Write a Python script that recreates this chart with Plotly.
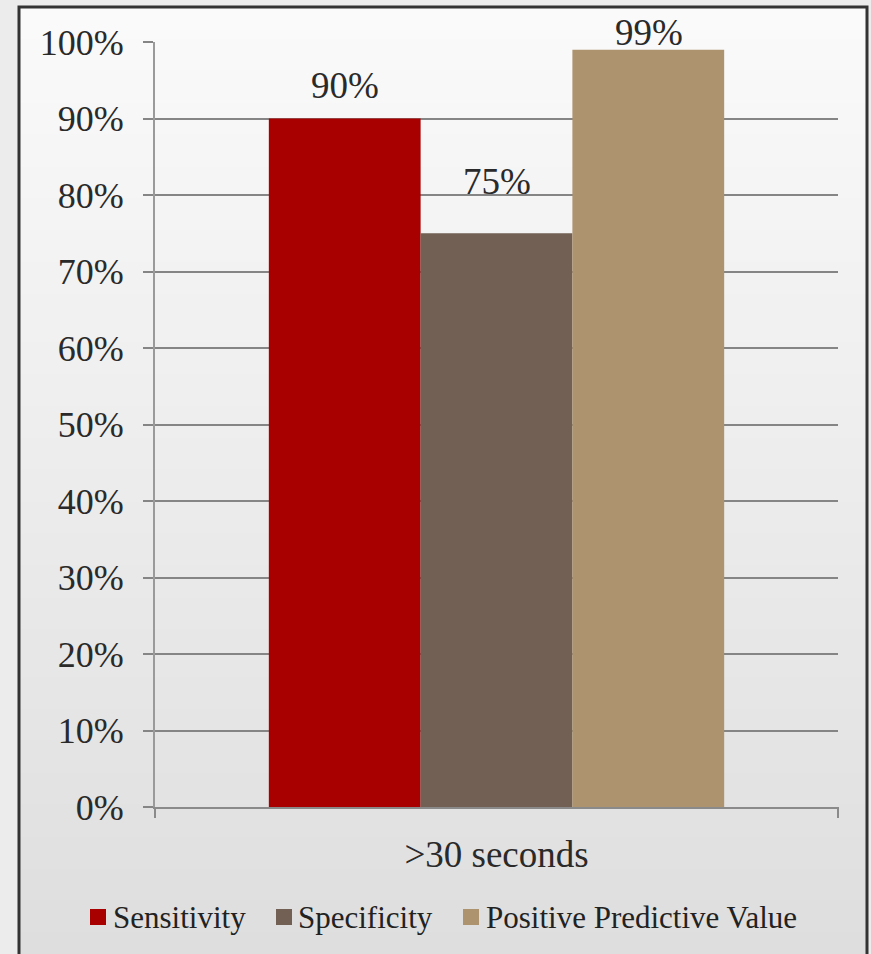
import plotly.graph_objects as go

categories = [">30 seconds"]
series_names = ["Sensitivity", "Specificity", "Positive Predictive Value"]
series_values = [[0.90], [0.75], [0.99]]
series_colors = ["#A80000", "#716053", "#AD946E"]
label_texts = ["90%", "75%", "99%"]
label_yshift = [11, 29, -5]
tick_vals = [0, 0.1, 0.2, 0.3, 0.4, 0.5, 0.6, 0.7, 0.8, 0.9, 1.0]
tick_text = ["0%", "10%", "20%", "30%", "40%", "50%", "60%", "70%", "80%", "90%", "100%"]

W, H = 871, 954
L, R, T, B = 155, 33, 42, 147
PW, PH = W - L - R, H - T - B


def px(x):
    return (x - L) / PW


def py(y):
    return (H - B - y) / PH


FONT = "Liberation Serif"

fig = go.Figure()
for name, vals, col in zip(series_names, series_values, series_colors):
    fig.add_trace(go.Bar(x=categories, y=vals, name=name, showlegend=False,
                         marker=dict(color=col, line=dict(width=0))))

shapes = []
n = 60
top_c = (250, 250, 250)
bot_c = (222, 222, 222)
for i in range(n):
    y0 = 7 + (H + 10 - 7) * i / n
    y1 = 7 + (H + 10 - 7) * (i + 1) / n
    t = i / (n - 1)
    c = tuple(int(round(top_c[k] + (bot_c[k] - top_c[k]) * t)) for k in range(3))
    shapes.append(dict(type="rect", xref="paper", yref="paper", x0=px(19), x1=px(867),
                       y0=py(y1) - 0.001, y1=py(y0), fillcolor="rgb(%d,%d,%d)" % c,
                       line=dict(width=0), layer="below"))
shapes.append(dict(type="rect", xref="paper", yref="paper", x0=px(19), x1=px(867),
                   y0=py(H + 20), y1=py(7), line=dict(color="#333333", width=3),
                   fillcolor="rgba(0,0,0,0)", layer="above"))
for xx in [0, 1]:
    shapes.append(dict(type="line", xref="paper", yref="paper", x0=xx, x1=xx,
                       y0=0, y1=py(818), line=dict(color="#8a8a8a", width=2)))

annotations = []
offsets = [-152, 0, 152]
for txt, vals, dx, dy in zip(label_texts, series_values, offsets, label_yshift):
    annotations.append(dict(x=categories[0], y=vals[0], xref="x", yref="y", text=txt,
                            showarrow=False, xshift=dx, yshift=dy, yanchor="bottom",
                            font=dict(family=FONT, size=37, color="#2a2a2a")))

# legend (drawn as swatches + text to keep it on one row like the reference)
legend_marker_x = [90, 276, 463]
legend_text_x = [111, 296, 484]
legend_y = 917
for name, col, mx, tx in zip(series_names, series_colors, legend_marker_x, legend_text_x):
    shapes.append(dict(type="rect", xref="paper", yref="paper", x0=px(mx), x1=px(mx + 16),
                       y0=py(legend_y + 8), y1=py(legend_y - 8), fillcolor=col,
                       line=dict(width=0)))
    annotations.append(dict(x=px(tx), y=py(legend_y), xref="paper", yref="paper", text=name,
                            showarrow=False, xanchor="left", yanchor="middle",
                            font=dict(family=FONT, size=31, color="#222222")))

fig.update_layout(
    width=W, height=H,
    margin=dict(l=L, r=R, t=T, b=B, pad=0, autoexpand=False),
    paper_bgcolor="#ececec",
    plot_bgcolor="rgba(0,0,0,0)",
    barmode="group",
    bargap=1 / 3,
    bargroupgap=0,
    shapes=shapes,
    annotations=annotations,
    font=dict(family=FONT, color="#2a2a2a"),
    showlegend=False,
    xaxis=dict(showgrid=False, showline=True, linecolor="#8a8a8a", linewidth=2,
               ticks="", tickfont=dict(family=FONT, size=37, color="#2a2a2a"),
               ticklabelstandoff=14),
    yaxis=dict(range=[0, 1.0], tickvals=tick_vals, ticktext=tick_text,
               showgrid=True, gridcolor="#858585", gridwidth=2,
               showline=True, linecolor="#9a9a9a", linewidth=2,
               ticks="outside", ticklen=10, tickcolor="#858585", tickwidth=2,
               zeroline=False, tickfont=dict(family=FONT, size=36, color="#2a2a2a"),
               ticklabelstandoff=12),
)

fig.write_html("out.html")
